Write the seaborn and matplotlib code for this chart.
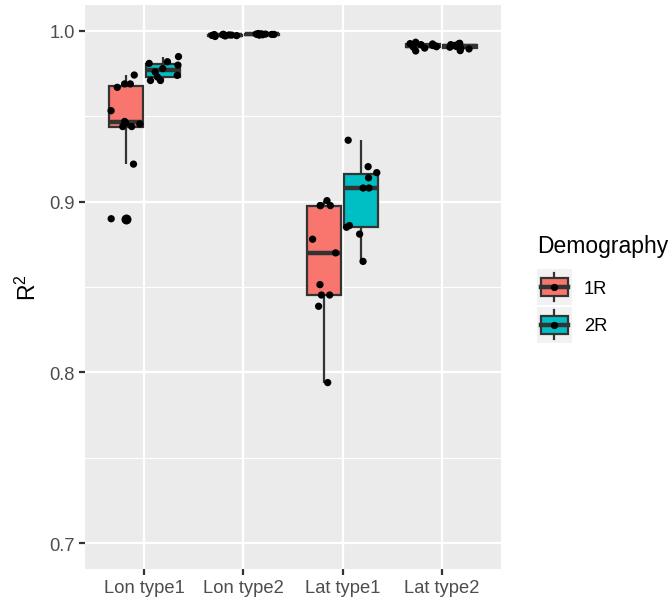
import numpy as np
import pandas as pd
import matplotlib
matplotlib.use("Agg")
import matplotlib.pyplot as plt
import seaborn as sns
from matplotlib.patches import Rectangle
from matplotlib.lines import Line2D
from matplotlib.legend_handler import HandlerBase
from matplotlib.ticker import FormatStrFormatter

# ---------------- data ----------------
categories = ["Lon type1", "Lon type2", "Lat type1", "Lat type2"]
demography = ["1R", "2R"]
colors = {"1R": "#F8766D", "2R": "#00BFC4"}

lon1_1R = [0.890, 0.922, 0.944, 0.944, 0.9455, 0.946, 0.947, 0.9533, 0.967, 0.969, 0.969, 0.9742]
lon1_2R = [0.971, 0.971, 0.973, 0.974, 0.976, 0.978, 0.980, 0.981, 0.982, 0.985]
lon2_1R = [0.9968, 0.9971, 0.9973, 0.9974, 0.9975, 0.9976, 0.9977, 0.9978, 0.9979, 0.9981]
lon2_2R = [0.9976, 0.9978, 0.9979, 0.9980, 0.9980, 0.9981, 0.9982, 0.9982, 0.9983, 0.9985]
lat1_1R = [0.794, 0.8387, 0.8453, 0.8453, 0.8514, 0.870, 0.878, 0.8977, 0.8977, 0.8977, 0.9006]
lat1_2R = [0.865, 0.881, 0.885, 0.886, 0.908, 0.908, 0.914, 0.917, 0.9205, 0.936]
lat2_1R = [0.9883, 0.9900, 0.9905, 0.9908, 0.9912, 0.9915, 0.9920, 0.9924, 0.9926, 0.9934]
lat2_2R = [0.9885, 0.9895, 0.9900, 0.9905, 0.9910, 0.9912, 0.9916, 0.9920, 0.9925, 0.9928]

groups = {
    ("Lon type1", "1R"): lon1_1R, ("Lon type1", "2R"): lon1_2R,
    ("Lon type2", "1R"): lon2_1R, ("Lon type2", "2R"): lon2_2R,
    ("Lat type1", "1R"): lat1_1R, ("Lat type1", "2R"): lat1_2R,
    ("Lat type2", "1R"): lat2_1R, ("Lat type2", "2R"): lat2_2R,
}
rows = []
for (cat, dem), vals in groups.items():
    for v in vals:
        rows.append({"Type": cat, "Demography": dem, "R2": v})
df = pd.DataFrame(rows)
df["Type"] = pd.Categorical(df["Type"], categories=categories, ordered=True)
df["Demography"] = pd.Categorical(df["Demography"], categories=demography, ordered=True)

# ---------------- style ----------------
plt.rcParams["font.family"] = ["Liberation Sans", "DejaVu Sans"]
plt.rcParams["mathtext.fontset"] = "custom"
plt.rcParams["mathtext.rm"] = "Liberation Sans"
plt.rcParams["mathtext.default"] = "regular"

W, H, DPI = 672, 603, 150
fig = plt.figure(figsize=(W / DPI, H / DPI), dpi=DPI)
ax = fig.add_axes([85 / W, 1 - 569.6 / H, (501 - 85) / W, (569.6 - 6.4) / H])
ax.set_facecolor("#EBEBEB")

LW = 1.07
EDGE = "#333333"

sns.boxplot(
    data=df, x="Type", y="R2", hue="Demography", order=categories,
    hue_order=demography, palette=colors, saturation=1, width=0.75, gap=0.07,
    dodge=True, linecolor=EDGE, linewidth=LW, showcaps=False, whis=1.5,
    medianprops=dict(linewidth=2 * LW, color=EDGE),
    flierprops=dict(marker="o", markerfacecolor="black", markeredgecolor="none",
                    markersize=4.8),
    legend=False, ax=ax,
)
np.random.seed(7)
sns.stripplot(
    data=df, x="Type", y="R2", hue="Demography", order=categories,
    hue_order=demography, palette={"1R": "black", "2R": "black"},
    dodge=True, jitter=0.32, size=3.5, linewidth=0, legend=False, ax=ax, zorder=4,
)

ax.set_xlim(-0.6, 3.6)
ax.set_ylim(0.685, 1.015)
ax.set_yticks([0.7, 0.8, 0.9, 1.0])
ax.set_yticks([0.75, 0.85, 0.95], minor=True)
ax.yaxis.set_major_formatter(FormatStrFormatter("%.1f"))
for s in ax.spines.values():
    s.set_visible(False)
ax.set_axisbelow(True)
ax.grid(which="major", axis="both", color="white", linewidth=LW)
ax.grid(which="minor", axis="y", color="white", linewidth=LW / 2)
ax.tick_params(which="major", length=2.75, width=LW, color=EDGE,
               labelcolor="#4D4D4D", labelsize=8.8, pad=2.2)
ax.tick_params(which="minor", length=0)
ax.set_xlabel("")
ax.set_ylabel("R$^{2}$", fontsize=11, color="black", labelpad=4)

# ---------------- legend ----------------
class BoxKeyHandler(HandlerBase):
    def __init__(self, color):
        super().__init__()
        self.color = color

    def create_artists(self, legend, orig_handle, xdescent, ydescent, width,
                       height, fontsize, trans):
        x0, y0 = -xdescent, -ydescent
        cx, cy = x0 + width / 2, y0 + height / 2
        bg = Rectangle((x0, y0), width, height, facecolor="#F2F2F2",
                       edgecolor="none", transform=trans)
        wh = Line2D([cx, cx], [y0 + 0.1 * height, y0 + 0.9 * height],
                    color=EDGE, lw=LW, transform=trans)
        bx = Rectangle((x0 + 0.12 * width, y0 + 0.25 * height), 0.76 * width,
                       0.5 * height, facecolor=self.color, edgecolor=EDGE,
                       lw=LW, transform=trans)
        md = Line2D([x0 + 0.12 * width, x0 + 0.88 * width], [cy, cy],
                    color=EDGE, lw=2 * LW, transform=trans)
        dt = Line2D([cx], [cy], marker="o", ms=3.5, color="black", lw=0,
                    markeredgewidth=0, transform=trans)
        return [bg, wh, bx, md, dt]

handles = [Rectangle((0, 0), 1, 1, facecolor=colors[d]) for d in demography]
hmap = {h: BoxKeyHandler(colors[d]) for h, d in zip(handles, demography)}
fig.legend(handles, demography, handler_map=hmap, loc="upper left",
           bbox_to_anchor=(537 / W, 1 - 270 / H), frameon=False,
           fontsize=8.8, handlelength=1.9, handleheight=2.645,
           labelspacing=0.1, handletextpad=0.65, borderpad=0,
           borderaxespad=0)
fig.text(537 / W, 1 - 247 / H, "Demography", fontsize=11, ha="left",
         va="center", color="black")

fig.savefig("out.png", dpi=DPI)
